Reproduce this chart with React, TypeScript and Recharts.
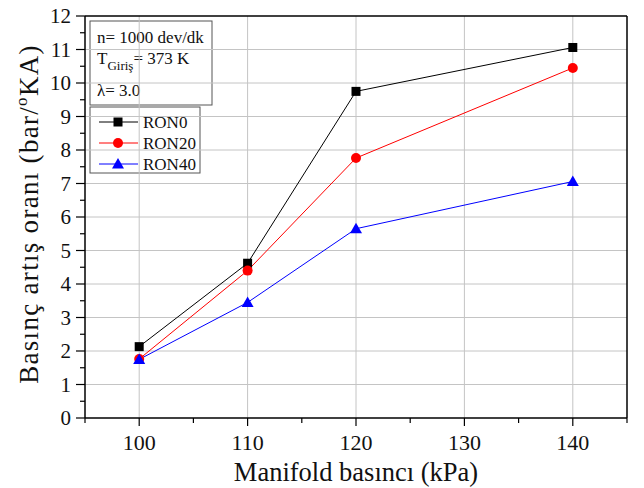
import React from "react";
import { LineChart, Line, XAxis, YAxis, ReferenceLine, Label } from "recharts";

// manifold pressure (kPa)
const manifoldKpa = [100, 110, 120, 140];
// pressure rise rate (bar/°CA)
const ron0 = [2.13, 4.62, 9.75, 11.06];
const ron20 = [1.76, 4.4, 7.76, 10.45];
const ron40 = [1.75, 3.45, 5.65, 7.06];

const xTicks = [95, 100, 105, 110, 115, 120, 125, 130, 135, 140, 145];
const xGrid = [100, 110, 120, 130, 140];
const yTicks = [0, 0.5, 1, 1.5, 2, 2.5, 3, 3.5, 4, 4.5, 5, 5.5, 6, 6.5, 7, 7.5, 8, 8.5, 9, 9.5, 10, 10.5, 11, 11.5, 12];
const yGrid = [1, 2, 3, 4, 5, 6, 7, 8, 9, 10, 11];

const FONT = "'Liberation Serif', 'Times New Roman', serif";
const GRID = "#c4c4c4";

const data = manifoldKpa.map((x, i) => ({
  x,
  RON0: ron0[i],
  RON20: ron20[i],
  RON40: ron40[i],
}));

const YTick = (props: any) => {
  const { x, y, payload } = props;
  const major = Number.isInteger(payload.value);
  return (
    <g>
      <line x1={x - (major ? 9 : 5)} x2={x} y1={y} y2={y} stroke="#000" strokeWidth={1.2} />
      {major && (
        <text x={x - 14} y={y + 7} textAnchor="end" fontFamily={FONT} fontSize={21} fill="#111">
          {payload.value}
        </text>
      )}
    </g>
  );
};

const XTick = (props: any) => {
  const { x, y, payload } = props;
  const major = payload.value % 10 === 0;
  return (
    <g>
      <line x1={x} x2={x} y1={y} y2={y + (major ? 8 : 5)} stroke="#000" strokeWidth={1.2} />
      {major && (
        <text x={x} y={y + 32} textAnchor="middle" fontFamily={FONT} fontSize={22} fill="#111">
          {payload.value}
        </text>
      )}
    </g>
  );
};

const Square = (props: any) => {
  const { cx, cy } = props;
  if (cx == null || cy == null) return null;
  return <rect x={cx - 4.5} y={cy - 4.5} width={9} height={9} fill="#000" />;
};

const Triangle = (props: any) => {
  const { cx, cy } = props;
  if (cx == null || cy == null) return null;
  return <path d={`M${cx},${cy - 6} L${cx + 6},${cy + 4.5} L${cx - 6},${cy + 4.5} Z`} fill="#0000ff" />;
};

const Boxes = () => (
  <g fontFamily={FONT} fill="#111">
    <rect x={90} y={21} width={122} height={84} fill="#fff" stroke="#555" strokeWidth={1} />
    <text x={97} y={43} fontSize={17}>n= 1000 dev/dk</text>
    <text x={97} y={64} fontSize={17}>
      T<tspan fontSize={13} dy={6}>Giriş</tspan>
      <tspan dy={-6}>= 373 K</tspan>
    </text>
    <text x={97} y={96} fontSize={17}>λ= 3.0</text>

    <rect x={90} y={107} width={110} height={66} fill="#fff" stroke="#555" strokeWidth={1} />
    <line x1={99} x2={138} y1={122} y2={122} stroke="#000" />
    <rect x={113.5} y={117.5} width={9} height={9} fill="#000" />
    <text x={143} y={128} fontSize={17}>RON0</text>
    <line x1={99} x2={138} y1={143} y2={143} stroke="#ff0000" />
    <circle cx={118} cy={143} r={5} fill="#ff0000" />
    <text x={143} y={149} fontSize={17}>RON20</text>
    <line x1={99} x2={138} y1={164} y2={164} stroke="#0000ff" />
    <path d="M118,158 L124,168.5 L112,168.5 Z" fill="#0000ff" />
    <text x={143} y={170} fontSize={17}>RON40</text>
  </g>
);

export default function App() {
  return (
    <div style={{ position: "absolute", left: 0, top: 0, width: 644, height: 488, background: "#fff" }}>
      <LineChart width={644} height={488} data={data} margin={{ top: 16, right: 17, bottom: 0, left: 25 }}>
        <XAxis
          dataKey="x"
          type="number"
          domain={[95, 145]}
          ticks={xTicks}
          interval={0}
          height={70}
          tickSize={0}
          tickMargin={0}
          tickLine={false}
          tick={<XTick />}
          axisLine={{ stroke: "#000", strokeWidth: 1.5 }}
        >
          <Label
            content={() => (
              <text x={356} y={481} textAnchor="middle" fontFamily={FONT} fontSize={26.5} fill="#111">
                Manifold basıncı (kPa)
              </text>
            )}
          />
        </XAxis>
        <YAxis
          type="number"
          domain={[0, 12]}
          ticks={yTicks}
          interval={0}
          width={60}
          tickSize={0}
          tickMargin={0}
          tickLine={false}
          tick={<YTick />}
          axisLine={{ stroke: "#000", strokeWidth: 1.5 }}
        >
          <Label
            content={() => (
              <text
                x={38}
                y={214}
                textAnchor="middle"
                fontFamily={FONT}
                fontSize={27}
                letterSpacing={1.3}
                fill="#111"
                transform="rotate(-90, 38, 214)"
              >
                Basınç artış oranı (bar/<tspan fontSize={17} dy={-11}>o</tspan>
                <tspan dy={11}>KA)</tspan>
              </text>
            )}
          />
        </YAxis>
        {xGrid.map((v) => (
          <ReferenceLine key={`vx${v}`} x={v} stroke={GRID} strokeWidth={1} />
        ))}
        {yGrid.map((v) => (
          <ReferenceLine key={`hy${v}`} y={v} stroke={GRID} strokeWidth={1} />
        ))}
        <ReferenceLine y={12} stroke="#000" strokeWidth={1.5} />
        <ReferenceLine x={145} stroke="#000" strokeWidth={1.5} />
        <Line type="linear" dataKey="RON0" stroke="#000" strokeWidth={1} dot={<Square />} isAnimationActive={false} />
        <Line
          type="linear"
          dataKey="RON20"
          stroke="#ff0000"
          strokeWidth={1}
          dot={{ r: 5, fill: "#ff0000", stroke: "none" }}
          isAnimationActive={false}
        />
        <Line type="linear" dataKey="RON40" stroke="#0000ff" strokeWidth={1} dot={<Triangle />} isAnimationActive={false} />
        <Boxes />
      </LineChart>
    </div>
  );
}
